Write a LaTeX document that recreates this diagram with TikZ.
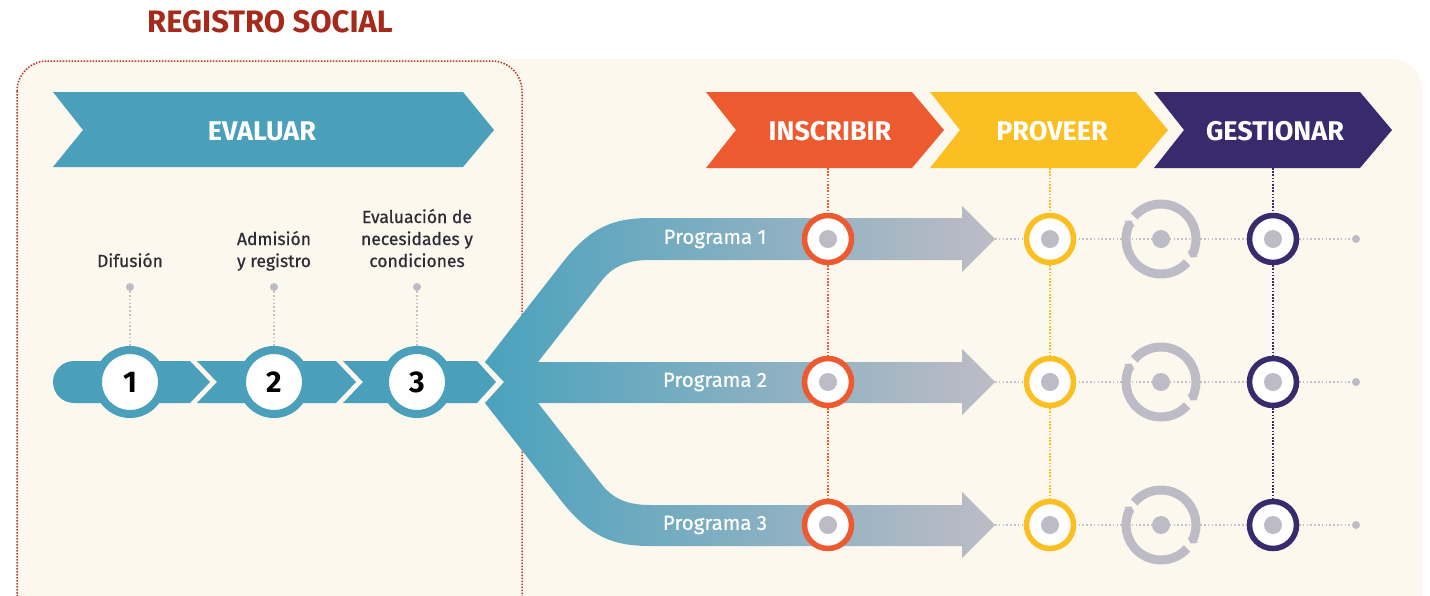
\documentclass[tikz,border=0pt]{standalone}
\usepackage{fontspec}
\setmainfont{Fira Sans}
\newfontfamily\firamed[FakeBold=0.6]{Fira Sans}
\usetikzlibrary{arrows.meta,bending}
\definecolor{cCream}{HTML}{FCF8EE}
\definecolor{cTeal}{HTML}{4AA0BA}
\definecolor{cTealL}{HTML}{4AA2BD}
\definecolor{cGrayA}{HTML}{BDBCC6}
\definecolor{cTitle}{HTML}{A52A1C}
\definecolor{cBorder}{HTML}{B8352A}
\definecolor{cOrange}{HTML}{EE5A30}
\definecolor{cYellow}{HTML}{FBBF22}
\definecolor{cPurple}{HTML}{382A6C}
\definecolor{cText}{HTML}{2D2C36}
\definecolor{cDotLine}{HTML}{C3C2CA}
\pgfdeclarelayer{back}
\pgfdeclarelayer{mid}
\pgfsetlayers{back,mid,main}
\tikzset{
  chevtext/.style={text=white,font=\bfseries\fontsize{27}{27}\selectfont,inner sep=0pt},
  steplabel/.style={text=cText,font=\firamed\fontsize{17.5}{22}\selectfont,align=center,inner sep=0pt},
  stepring/.style={circle,fill=white,draw=cTeal,line width=8pt,minimum size=64pt,inner sep=0pt,
    font=\bfseries\fontsize{30}{30}\selectfont,text=black},
  gdot/.style={circle,fill=cGrayA,minimum size=8pt,inner sep=0pt},
  cdot/.style={circle,fill=cGrayA,minimum size=18pt,inner sep=0pt},
  progring/.style={circle,fill=white,draw=#1,line width=5.5pt,minimum size=47pt,inner sep=0pt},
  proglabel/.style={text=white,font=\firamed\fontsize{20.5}{20.5}\selectfont,inner sep=0pt},
  greydots/.style={draw=cDotLine,line width=1.6pt,dash pattern=on 1.6pt off 2.2pt},
  coldots/.style={draw=#1,line width=1.6pt,dash pattern=on 1.6pt off 1.6pt},
  recyc/.style={draw=cGrayA,line width=9pt,-{Triangle[length=4pt,width=12pt,flex]}},
}
\begin{document}
\begin{tikzpicture}[x=1pt,y=-1pt]
\clip (0,0) rectangle (1430,595);
\begin{pgfonlayer}{back}
% background
\fill[white] (0,0) rectangle (1430,595);
\fill[cCream,rounded corners=30pt] (17,59) rectangle (1422,640);
\draw[cBorder,line width=1.5pt,dash pattern=on 1.5pt off 1.5pt,rounded corners=30pt] (17,61) rectangle (522,640);
% EVALUAR chevron
\fill[cTeal] (53,92) -- (463,92) -- (494,130) -- (463,167) -- (53,167) -- (83,130) -- cycle;
% top chevrons
\fill[cOrange] (706,92) -- (912,92) -- (944,130) -- (912,168) -- (706,168) -- (736,130) -- cycle;
\fill[cYellow] (930,92) -- (1136,92) -- (1168,130) -- (1136,168) -- (930,168) -- (960,130) -- cycle;
\fill[cPurple] (1154,92) -- (1360,92) -- (1392,130) -- (1360,168) -- (1154,168) -- (1184,130) -- cycle;
% step bar
\fill[cTeal] (74,361) -- (190,361) -- (210,382) -- (190,403) -- (74,403) arc[start angle=90,end angle=270,radius=21] -- cycle;
\fill[cTeal] (197,361) -- (336,361) -- (356,382) -- (336,403) -- (197,403) -- (217,382) -- cycle;
\fill[cTeal] (343,361) -- (477,361) -- (496,382) -- (477,403) -- (343,403) -- (363,382) -- cycle;
% fork with three arrows
\shade[left color=cTealL,right color=cGrayA]
  (504,382) -- (485,362) -- (563,262) .. controls (590,228) and (612,218) .. (650,218)
  -- (962,218) -- (962,206) -- (995,239) -- (962,272) -- (962,260) -- (650,260)
  .. controls (628,260) and (614,266) .. (603,279) -- (538,362)
  -- (962,362) -- (962,349) -- (995,382) -- (962,415) -- (962,403) -- (538,403)
  -- (603,486) .. controls (614,499) and (628,505) .. (650,505)
  -- (962,505) -- (962,492) -- (995,525) -- (962,558) -- (962,546) -- (650,546)
  .. controls (612,546) and (590,536) .. (563,503) -- (485,403) -- cycle;
\end{pgfonlayer}

% texts
\node[text=cTitle,font=\bfseries\fontsize{31}{31}\selectfont,inner sep=0pt] (title) at (270,22) {REGISTRO SOCIAL};
\node[chevtext] (eval) at (262,131) {EVALUAR};
\node[chevtext] (insc) at (830,131) {INSCRIBIR};
\node[chevtext] (prov) at (1052,131) {PROVEER};
\node[chevtext] (gest) at (1275,131) {GESTIONAR};

% steps
\node[stepring] (s1) at (130,382) {1};
\node[stepring] (s2) at (274,382) {2};
\node[stepring] (s3) at (417,382) {3};
\node[gdot] (p1) at (130,287) {};
\node[gdot] (p2) at (274,287) {};
\node[gdot] (p3) at (417,287) {};
\node[steplabel,anchor=base] (l1) at (130,267) {Difusión};
\node[steplabel,anchor=base] (l2) at (274,267) {Admisión\\y registro};
\node[steplabel,anchor=base] (l3) at (417,267) {Evaluación de\\necesidades y\\condiciones};

% program labels
\node[proglabel] (pg1) at (715,239) {Programa 1};
\node[proglabel] (pg2) at (715,382) {Programa 2};
\node[proglabel] (pg3) at (715,525) {Programa 3};

% rings
\foreach \r/\y in {1/239,2/382,3/525}{
  \node[progring=cOrange] (i\r) at (828,\y) {};
  \node[cdot] at (828,\y) {};
  \node[progring=cYellow] (y\r) at (1050,\y) {};
  \node[cdot] at (1050,\y) {};
  \node[progring=cPurple] (g\r) at (1273,\y) {};
  \node[cdot] at (1273,\y) {};
  \node[cdot] (r\r) at (1161,\y) {};
  \draw[recyc] (1161,\y) ++(-140:35) arc[start angle=-140,end angle=32,radius=35];
  \draw[recyc] (1161,\y) ++(42:35) arc[start angle=42,end angle=212,radius=35];
  \node[gdot] (e\r) at (1356,\y) {};
  \coordinate (t\r) at (995,\y);
}
\coordinate (ci) at (828,168);
\coordinate (cy) at (1050,168);
\coordinate (cg) at (1273,168);

\begin{pgfonlayer}{mid}
\draw[greydots] (p1) -- (s1);
\draw[greydots] (p2) -- (s2);
\draw[greydots] (p3) -- (s3);
\draw[coldots=cOrange] (ci) -- (i1) -- (i2) -- (i3);
\draw[coldots=cYellow] (cy) -- (y1) -- (y2) -- (y3);
\draw[coldots=cPurple] (cg) -- (g1) -- (g2) -- (g3);
\draw[greydots] (t1) -- (e1);
\draw[greydots] (t2) -- (e2);
\draw[greydots] (t3) -- (e3);
\end{pgfonlayer}
\end{tikzpicture}
\end{document}
